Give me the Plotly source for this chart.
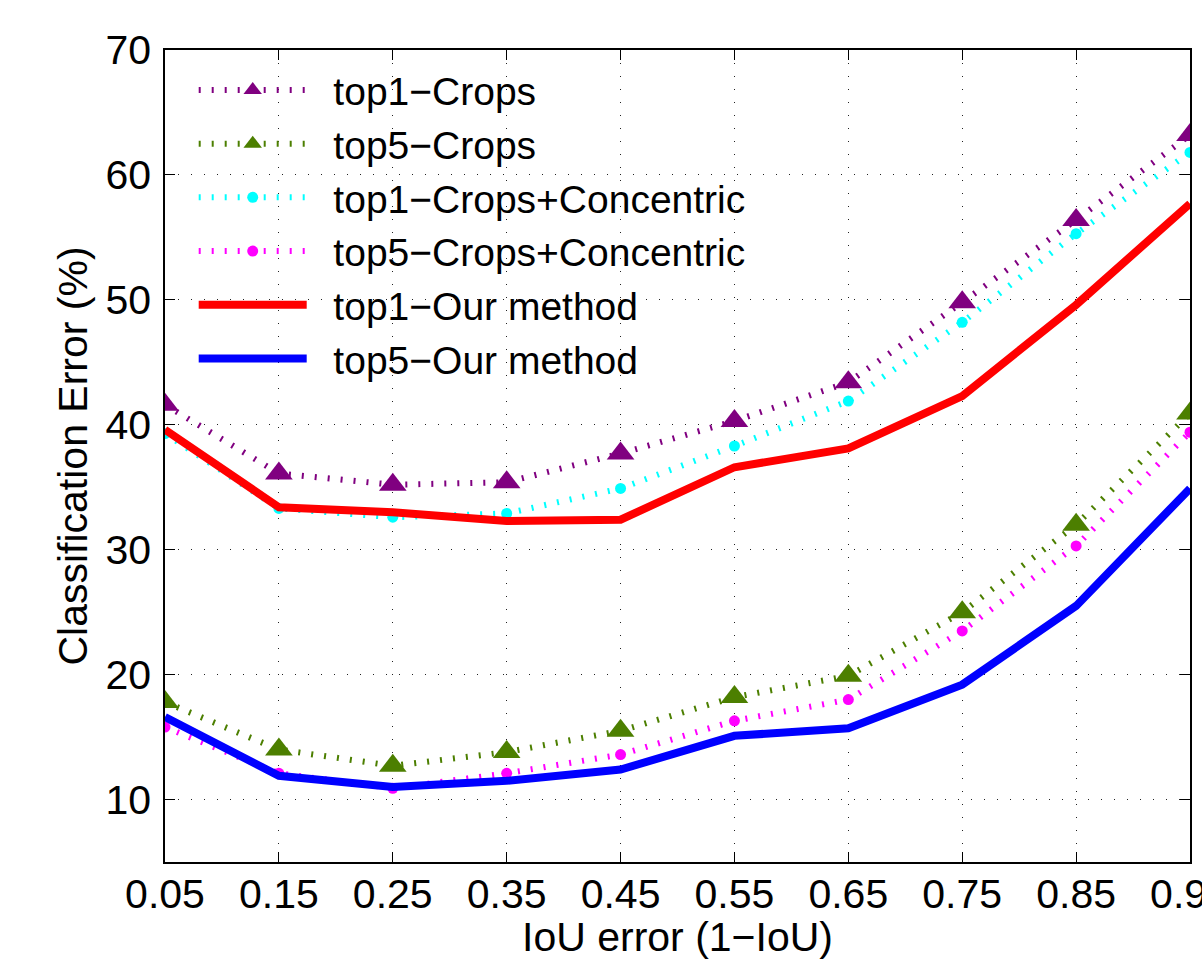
import plotly.graph_objects as go

iou_error = [0.05, 0.15, 0.25, 0.35, 0.45, 0.55, 0.65, 0.75, 0.85, 0.95]
top1_crops = [41.6, 36.1, 35.2, 35.4, 37.7, 40.3, 43.4, 49.8, 56.4, 63.2]
top5_crops = [17.8, 14.0, 12.7, 13.8, 15.5, 18.2, 19.9, 25.0, 32.0, 40.9]
top1_concentric = [39.3, 33.3, 32.6, 32.9, 34.9, 38.3, 41.9, 48.2, 55.3, 61.8]
top5_concentric = [15.8, 12.1, 10.9, 12.1, 13.6, 16.3, 18.0, 23.5, 30.3, 39.4]
top1_ours = [39.6, 33.4, 33.0, 32.3, 32.4, 36.6, 38.1, 42.3, 49.6, 57.7]
top5_ours = [16.6, 11.9, 11.0, 11.5, 12.4, 15.1, 15.7, 19.2, 25.5, 34.9]

series_names = ["top1\u2212Crops", "top5\u2212Crops", "top1\u2212Crops+Concentric",
                "top5\u2212Crops+Concentric", "top1\u2212Our method", "top5\u2212Our method"]
x_ticks = [0.05, 0.15, 0.25, 0.35, 0.45, 0.55, 0.65, 0.75, 0.85, 0.95]
y_ticks = [10, 20, 30, 40, 50, 60, 70]

PURPLE = "#800080"
GREEN = "#4c7f00"
CYAN = "#00ffff"
MAGENTA = "#ff00ff"
RED = "#ff0000"
BLUE = "#0000ff"
DOT = "2px,11px"
FONT = "Liberation Sans, Arial, Helvetica, sans-serif"
FS = 41
PAD = "\u00a0\u00a0"

fig = go.Figure()

def dotted(y, name, color, symbol, size):
    fig.add_trace(go.Scatter(
        x=iou_error, y=y, name=PAD + name, mode="lines+markers",
        line=dict(color=color, width=6, dash=DOT),
        marker=dict(symbol=symbol, size=size, color=color, line=dict(width=0)),
    ))

def solid(y, name, color):
    fig.add_trace(go.Scatter(
        x=iou_error, y=y, name=PAD + name, mode="lines",
        line=dict(color=color, width=8),
    ))

dotted(top1_crops, series_names[0], PURPLE, "triangle-up", 24)
dotted(top5_crops, series_names[1], GREEN, "triangle-up", 24)
dotted(top1_concentric, series_names[2], CYAN, "circle", 11)
dotted(top5_concentric, series_names[3], MAGENTA, "circle", 11)
solid(top1_ours, series_names[4], RED)
solid(top5_ours, series_names[5], BLUE)

axis_common = dict(
    showline=True, linecolor="black", linewidth=1.5, mirror="ticks",
    ticks="inside", ticklen=10, tickwidth=1, tickcolor="black",
    showgrid=True, gridcolor="#222", gridwidth=1, griddash="1px,12px",
    zeroline=False, automargin=False,
    tickfont=dict(family=FONT, size=FS, color="black"),
    title_font=dict(family=FONT, size=FS, color="black"),
)

fig.update_layout(
    width=1202, height=960,
    margin=dict(l=165, r=12, t=50, b=98),
    paper_bgcolor="white", plot_bgcolor="white",
    font=dict(family=FONT, size=FS, color="black"),
    showlegend=True,
    legend=dict(
        x=0.028, y=0.99, xanchor="left", yanchor="top",
        bgcolor="rgba(0,0,0,0)", borderwidth=0,
        font=dict(family=FONT, size=39, color="black"),
        itemwidth=108, tracegroupgap=0,
    ),
    xaxis=dict(
        range=[0.05, 0.95], tickvals=x_ticks,
        ticktext=[f"{v:.2f}" for v in x_ticks],
        ticklabeloverflow="allow",
        title=dict(text="IoU error (1\u2212IoU)", standoff=4),
        ticklabelstandoff=-5,
        **axis_common,
    ),
    yaxis=dict(
        range=[5, 70], tickvals=y_ticks,
        title=dict(text="Classification Error (%)", standoff=5),
        ticklabelstandoff=4,
        **axis_common,
    ),
)

fig.write_html(
    "out.html",
    config={"displayModeBar": False},
    post_script="document.body.style.margin='0';document.body.style.overflow='hidden';",
)
